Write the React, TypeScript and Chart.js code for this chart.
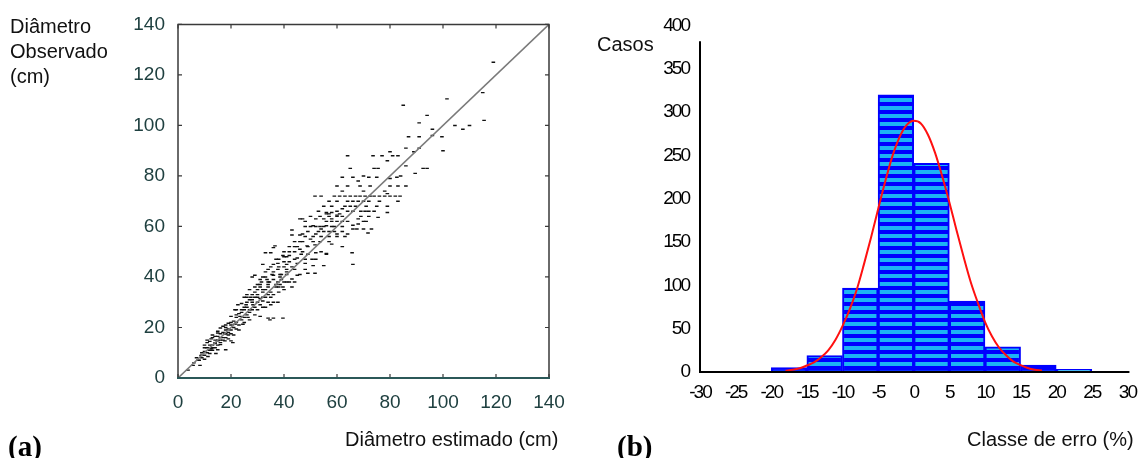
import React, { useEffect, useRef } from "react";
import { Chart, registerables } from "chart.js";

Chart.register(...registerables);

// ---------- (a) scatter: estimated vs observed diameter (cm) ----------
const diameterMin = 0;
const diameterMax = 140;
const diameterStep = 20;
const identityLine: [number, number][] = [
  [0, 0],
  [140, 140],
];
const scatterPoints: [number, number][] = [
  [119, 125], [115, 113], [101.5, 110.5], [85, 108], [94, 104], [91, 101], [104.5, 100], [107.5, 98.5],
  [110, 100], [115.5, 102], [96, 98.5], [87, 95.5], [91, 95.5], [96, 96], [99.6, 95.5], [86, 91],
  [100, 90], [80, 89.6], [81, 88], [64, 88], [73.6, 88], [77, 88], [83, 88], [79, 86], [89, 89.6],
  [91, 91], [65, 83], [74, 83], [75.5, 83], [92.5, 83], [94, 83], [89.5, 81], [62, 79.5], [66, 79.5],
  [72, 79.5], [75, 79.5], [82.6, 79.5], [60, 76], [68.7, 76], [72.5, 76], [80, 76], [83, 76], [86, 76],
  [51.7, 72], [54, 72], [59, 72], [61, 72], [63, 72], [65, 72], [67, 72], [68.7, 72], [70.6, 72],
  [72.5, 72], [74, 72], [76, 72], [78, 72], [80, 72], [82, 72], [83.8, 72],
  [70, 74], [79, 73], [83, 70], [63, 68], [65, 68], [67, 68], [71, 68], [75, 68], [69, 66], [70.6, 66],
  [61, 65], [60, 64], [56, 65], [57, 65], [79, 65.5], [69, 64], [72, 64], [46, 63], [52, 63], [55, 63],
  [58, 62], [60, 62], [62, 62], [64, 62], [66, 60.5], [50, 60], [52, 60], [55, 60], [58, 60], [66, 59],
  [67.5, 59], [70, 59], [53.6, 64], [57, 64], [60, 64.5], [56, 65.5], [58, 65.5],
  [48, 60], [51, 60.3], [53.6, 60], [56, 60.3], [59, 60], [62, 60],
  [43, 56.6], [46, 56.6], [51, 56], [54, 56], [57, 56], [60, 56], [63, 56],
  [47, 54], [51, 54], [53.6, 54], [57, 54], [45, 52], [48.7, 52.3], [51.7, 52.7], [36, 51.6],
  [33, 49.6], [35, 49.6], [39.6, 48.5], [42, 48.5], [46.5, 49], [49, 49], [52, 49.6], [56, 49],
  [44, 47], [48, 47], [50.6, 47], [37.7, 45.4], [41, 45], [45, 45.4], [48, 45.4], [32, 45],
  [37.7, 43], [41, 43], [44, 43], [51, 44.5], [55, 44.5], [35.5, 41], [38.5, 41], [41, 41],
  [49, 41.5], [51.7, 41.5], [28, 40], [33.6, 39], [36, 39], [39, 39], [31.5, 38], [34.5, 38],
  [37.7, 38], [41, 38], [42, 38], [31, 36], [34, 36], [37, 36], [39.6, 36], [43, 36],
  [29, 34], [32, 34], [35, 34], [26, 32], [29, 32], [32, 32], [35, 32], [45, 40.7], [43, 39.2],
  [29, 40.7], [33, 40], [36, 40.7], [38.5, 40], [31, 37], [34, 37], [37, 37], [38.5, 37],
  [27, 35], [30, 35], [33, 35], [25, 32], [27.5, 32], [31, 31.5], [33, 32], [36, 30], [37.7, 30],
  [22.6, 29], [25.7, 29], [28.3, 29], [31, 29], [21.5, 27], [25, 27], [27, 27],
  [31, 24.4], [34, 23.7], [36, 23.7], [20, 24.4], [23.4, 24.4], [26.4, 24],
  [19, 21.7], [21.5, 21.3], [24.5, 21.3], [16, 19.8], [19, 19.4], [22, 19.4],
  [15, 17.8], [17.7, 17.5], [20, 17.5], [12.5, 15.5], [15, 14.7], [17.7, 14.7], [20, 14.7],
  [11, 14], [14, 13.6], [16, 13.2], [10, 12], [12.5, 11.6], [15, 11.2], [18, 11.2],
  [12, 9.7], [14.3, 9.7], [8.7, 8.9], [11.3, 8.5], [7.5, 7], [10, 7.4], [5.7, 5], [8.3, 5], [3.8, 3.1],
  [39.6, 23.7], [34.7, 23], [20.7, 14], [66, 45], [65.7, 49.6], [56, 49.3], [62, 52], [71.7, 57.4],
  [73, 59], [75.5, 63.6], [79, 68], [36.6, 52.3], [47, 63], [43, 58.6],
  [13, 16], [14, 15], [16, 16], [17, 18], [13, 13], [15, 16.5], [18, 16], [12, 13], [11, 12],
  [9, 10], [10, 10.5], [14, 12], [16, 14], [18, 19], [19, 17], [21, 20], [22, 22], [23, 21],
  [24, 23], [25, 24], [26, 25], [27, 26], [28, 27], [29, 28], [30, 30], [32, 30.5], [34, 33],
  [38, 34], [40, 35], [44, 38], [46, 41], [48, 43], [52, 47], [54, 50], [58, 53], [60, 57],
  [62, 58], [64, 57], [68, 61], [71, 62], [40, 44], [42, 46], [44, 50], [46, 51], [38, 47],
  [40, 50], [42, 52], [44, 54], [47, 57], [49, 58], [53, 58], [55, 58], [57, 58], [59, 58],
  [30, 33], [28, 31], [26, 28], [24, 26], [22, 24], [20, 22], [18, 21], [17, 15], [19, 15.5],
  [21, 17], [23, 19], [25, 22], [27, 23], [29, 25], [33, 28], [35, 29], [13, 11], [15, 13], [9, 8],
  [6, 6], [7, 8], [8, 7], [9, 9], [10, 9], [11, 10], [12, 11], [13, 12], [14, 14], [15, 15],
  [16, 15], [17, 16], [18, 17.5], [19, 18], [20, 19], [12, 14.5], [14, 16.5], [16, 17.5], [18, 20],
  [20, 21], [10, 13], [13, 17], [15, 18.5], [17, 20.5], [11, 15], [21, 22.5], [22, 25], [23, 25.5],
  [24, 27], [25, 28], [26, 30], [27, 31], [28, 33], [29, 36], [30, 37], [31, 39], [32, 40],
  [33, 42], [34, 43], [35, 44], [36, 45], [37, 47], [28, 30], [30, 32], [32, 35], [34, 38],
  [36, 42], [38, 44], [40, 46], [41, 48], [24, 29.5], [26, 33], [22, 27], [30, 27], [32, 28],
  [34, 30], [36, 33], [38, 36], [40, 38], [39, 41], [41, 42], [43, 44], [45, 47.5], [47, 50],
  [49, 52], [50, 55], [52, 57], [54, 59], [48, 56], [46, 54], [44, 52], [42, 50], [40, 48],
  [56, 62], [58, 63], [60, 66], [62, 67], [64, 70], [66, 70], [68, 70], [70, 70], [72, 70],
  [58, 68], [60, 70], [55, 68], [53, 66], [50, 64], [48, 62], [62, 64], [64, 66], [66, 66],
  [68, 63], [70, 62], [72, 66], [74, 66], [76, 70], [78, 74], [80, 79], [84, 80], [86, 84],
  [70, 80], [68, 78], [64, 76], [57, 70], [62, 74],
];

// ---------- (b) histogram of error classes (%) ----------
const errorMin = -30;
const errorMax = 30;
const errorStep = 5;
const casesMax = 400;
const casesStep = 50;
const errorClassCenters = [-17.5, -12.5, -7.5, -2.5, 2.5, 7.5, 12.5, 17.5, 22.5];
const caseCounts = [5, 19, 97, 320, 241, 82, 29, 8, 3];
const curveX = [-18, -17, -16, -15, -14, -13, -12, -11, -10, -9, -8, -7, -6, -5, -4, -3, -2, -1, 0,
  1, 2, 3, 4, 5, 6, 7, 8, 9, 10, 11, 12, 13, 14, 15, 16, 17, 18];
const curveY = [1.5, 2.5, 4.3, 7.5, 11, 17, 25, 37, 53, 72, 95, 124, 155, 188, 220, 249, 271, 285, 290,
  287, 274, 253, 226, 196, 164, 133, 104, 80, 58, 41, 28, 19, 12, 8, 4.7, 2.7, 1.6];

const sansFont = "'Liberation Sans', Arial, Helvetica, sans-serif";

function makeStripePattern(): CanvasPattern | string {
  const c = document.createElement("canvas");
  c.width = 8;
  c.height = 8;
  const g = c.getContext("2d");
  if (!g) return "#0000ff";
  g.fillStyle = "#0000ff";
  g.fillRect(0, 0, 8, 8);
  g.fillStyle = "#1cb4f4";
  g.fillRect(0, 2, 8, 4);
  const p = g.createPattern(c, "repeat");
  return p || "#0000ff";
}

const scatterBoxPlugin = {
  id: "scatterBox",
  afterDraw(chart: any) {
    const { ctx, chartArea: a, scales } = chart;
    const xs = scales.x;
    const ys = scales.y;
    ctx.save();
    ctx.strokeStyle = "#3a3a3a";
    ctx.lineWidth = 1.5;
    ctx.beginPath();
    ctx.moveTo(a.left, a.bottom);
    ctx.lineTo(a.left, a.top);
    ctx.lineTo(a.right, a.top);
    ctx.lineTo(a.right, a.bottom);
    ctx.stroke();
    ctx.lineWidth = 1.2;
    xs.ticks.forEach((t: any) => {
      const p = xs.getPixelForValue(t.value);
      ctx.beginPath();
      ctx.moveTo(p, a.top);
      ctx.lineTo(p, a.top + 4);
      ctx.moveTo(p, a.bottom);
      ctx.lineTo(p, a.bottom - 4);
      ctx.stroke();
    });
    ys.ticks.forEach((t: any) => {
      const p = ys.getPixelForValue(t.value);
      ctx.beginPath();
      ctx.moveTo(a.left, p);
      ctx.lineTo(a.left + 4, p);
      ctx.moveTo(a.right, p);
      ctx.lineTo(a.right - 4, p);
      ctx.stroke();
    });
    ctx.strokeStyle = "#2b5858";
    ctx.lineWidth = 2;
    ctx.beginPath();
    ctx.moveTo(a.left - 1, a.bottom);
    ctx.lineTo(a.right + 1, a.bottom);
    ctx.stroke();
    ctx.restore();
  },
};

// narrow, tightly packed tick digits like the original bitmap font
const histLetterSpacingPlugin = {
  id: "histLetterSpacing",
  beforeDraw(chart: any) {
    (chart.ctx as any).letterSpacing = "-2px";
  },
  afterDraw(chart: any) {
    (chart.ctx as any).letterSpacing = "0px";
  },
};

const histAxesPlugin = {
  id: "histAxes",
  afterDatasetsDraw(chart: any) {
    const { ctx, chartArea: a, scales } = chart;
    const ys = scales.y;
    ctx.save();
    ctx.strokeStyle = "#000";
    ctx.lineWidth = 2;
    ctx.beginPath();
    ctx.moveTo(a.left, ys.getPixelForValue(382));
    ctx.lineTo(a.left, a.bottom);
    ctx.lineTo(a.right + 2, a.bottom);
    ctx.stroke();
    ctx.restore();
  },
};

export default function App() {
  const leftRef = useRef<HTMLCanvasElement | null>(null);
  const rightRef = useRef<HTMLCanvasElement | null>(null);

  useEffect(() => {
    if (!leftRef.current || !rightRef.current) return;

    const scatter = new Chart(leftRef.current, {
      type: "scatter",
      data: {
        datasets: [
          {
            data: identityLine.map(([x, y]) => ({ x, y })),
            showLine: true,
            borderColor: "#7a7a7a",
            borderWidth: 1.6,
            pointRadius: 0,
            order: 0,
          } as any,
          {
            data: scatterPoints.map(([x, y]) => ({ x, y })),
            pointStyle: "line",
            pointRadius: 1.8,
            borderWidth: 1.4,
            borderColor: "#111",
            backgroundColor: "#111",
            order: 1,
          } as any,
        ],
      },
      options: {
        animation: false,
        responsive: false,
        devicePixelRatio: 1,
        layout: { padding: { left: 0, top: 17, right: 31, bottom: 0 } },
        plugins: { legend: { display: false }, tooltip: { enabled: false } },
        scales: {
          x: {
            type: "linear",
            min: diameterMin,
            max: diameterMax,
            grid: { display: false, drawTicks: false },
            border: { display: false },
            ticks: {
              stepSize: diameterStep,
              padding: 13,
              color: "#1f4040",
              font: { family: sansFont, size: 19 },
              maxRotation: 0,
            },
            afterFit: (s: any) => {
              s.height = 80;
            },
          },
          y: {
            type: "linear",
            min: diameterMin,
            max: diameterMax,
            grid: { display: false, drawTicks: false },
            border: { display: false },
            ticks: {
              stepSize: diameterStep,
              padding: 13,
              color: "#1f4040",
              font: { family: sansFont, size: 19 },
            },
            afterFit: (s: any) => {
              s.width = 178;
            },
          },
        },
      } as any,
      plugins: [scatterBoxPlugin],
    });

    const pattern = makeStripePattern();
    const hist = new Chart(rightRef.current, {
      type: "bar",
      data: {
        datasets: [
          {
            type: "line",
            data: curveX.map((x, i) => ({ x, y: curveY[i] })),
            borderColor: "#ff1010",
            borderWidth: 2,
            pointRadius: 0,
            cubicInterpolationMode: "monotone",
            order: 0,
          } as any,
          {
            type: "bar",
            data: errorClassCenters.map((x, i) => ({ x, y: caseCounts[i] })),
            backgroundColor: pattern,
            borderColor: "#0000ff",
            borderWidth: 2,
            borderSkipped: false,
            barPercentage: 1,
            categoryPercentage: 1,
            order: 1,
          } as any,
        ],
      },
      options: {
        animation: false,
        responsive: false,
        devicePixelRatio: 1,
        layout: { padding: { left: 0, top: 25.6, right: 7.4, bottom: 0 } },
        plugins: { legend: { display: false }, tooltip: { enabled: false } },
        scales: {
          x: {
            type: "linear",
            min: errorMin,
            max: errorMax,
            offset: false,
            grid: { display: false, drawTicks: false },
            border: { display: false },
            ticks: {
              stepSize: errorStep,
              padding: 9,
              color: "#000",
              font: { family: sansFont, size: 19 },
              maxRotation: 0,
            },
            afterFit: (s: any) => {
              s.height = 86;
            },
          },
          y: {
            type: "linear",
            min: 0,
            max: casesMax,
            grid: { display: false, drawTicks: false },
            border: { display: false },
            ticks: {
              stepSize: casesStep,
              padding: 11,
              color: "#000",
              font: { family: sansFont, size: 19 },
            },
            afterFit: (s: any) => {
              s.width = 120;
            },
          },
        },
      } as any,
      plugins: [histLetterSpacingPlugin, histAxesPlugin],
    });

    return () => {
      scatter.destroy();
      hist.destroy();
    };
  }, []);

  const label: React.CSSProperties = {
    position: "absolute",
    fontFamily: sansFont,
    fontSize: 20,
    lineHeight: "25px",
    color: "#111",
    whiteSpace: "pre",
    margin: 0,
  };
  const panelTag: React.CSSProperties = {
    position: "absolute",
    fontFamily: "'Liberation Serif', 'Times New Roman', serif",
    fontWeight: "bold",
    fontSize: 29,
    lineHeight: "34px",
    color: "#000",
    whiteSpace: "pre",
  };

  return (
    <div
      style={{
        position: "absolute",
        left: 0,
        top: 0,
        width: 1147,
        height: 458,
        background: "#fff",
        overflow: "hidden",
      }}
    >
      <canvas ref={leftRef} width={580} height={458} style={{ position: "absolute", left: 0, top: 0 }} />
      <canvas ref={rightRef} width={567} height={458} style={{ position: "absolute", left: 580, top: 0 }} />
      <div style={{ ...label, left: 10, top: 13.5 }}>{"Diâmetro\nObservado\n(cm)"}</div>
      <div style={{ ...label, left: 345, top: 427 }}>Diâmetro estimado (cm)</div>
      <div style={{ ...panelTag, left: 8, top: 429 }}>(a)</div>
      <div style={{ ...label, left: 597, top: 31.5 }}>Casos</div>
      <div style={{ ...label, left: 967, top: 426.5 }}>Classe de erro (%)</div>
      <div style={{ ...panelTag, left: 617, top: 429 }}>(b)</div>
    </div>
  );
}
